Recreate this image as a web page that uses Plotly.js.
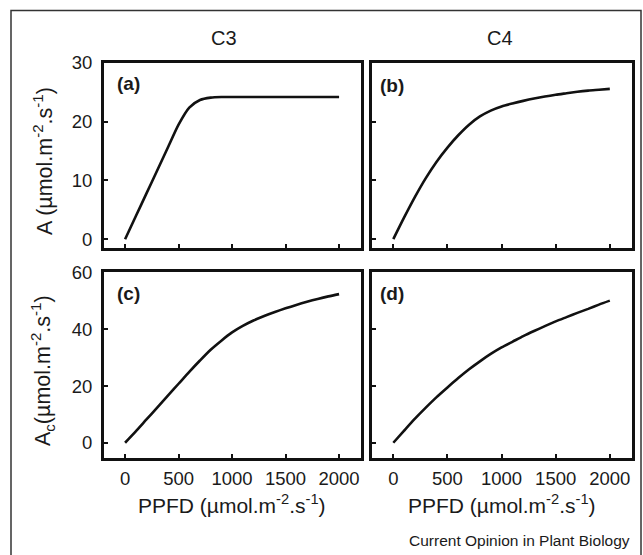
<!DOCTYPE html>
<html>
<head>
<meta charset="utf-8">
<script src="https://cdn.plot.ly/plotly-3.0.1.min.js"></script>
<style>html,body{margin:0;padding:0;background:#fff;}#chart{width:643px;height:555px;}</style>
</head>
<body>
<div id="chart"></div>
<script>
// PPFD values (µmol m-2 s-1)
const ppfd = [0,100,200,300,400,500,600,700,800,900,1000,1100,1200,1300,1400,1500,1600,1700,1800,1900,2000];
// (a) C3 net assimilation A
const aC3 = [0,3.9,7.8,11.7,15.6,19.5,22.4,23.7,24.1,24.2,24.2,24.2,24.2,24.2,24.2,24.2,24.2,24.2,24.2,24.2,24.2];
// (b) C4 net assimilation A
const aC4 = [0,3.7,7.2,10.4,13.2,15.6,17.7,19.5,20.9,21.9,22.6,23.1,23.55,23.95,24.3,24.6,24.85,25.1,25.3,25.45,25.6];
// (c) C3 canopy assimilation Ac
const acC3 = [0,4.0,8.2,12.4,16.6,20.8,25.0,29.0,32.8,36.0,38.9,41.2,43.1,44.7,46.1,47.4,48.6,49.7,50.7,51.6,52.4];
// (d) C4 canopy assimilation Ac
const acC4 = [0,4.3,8.5,12.4,16.1,19.5,22.8,25.9,28.7,31.3,33.6,35.6,37.6,39.4,41.1,42.8,44.3,45.8,47.2,48.7,50.1];
// ticks
const xTicks = [0,500,1000,1500,2000];
const yTicksA = [0,10,20,30];
const yTicksAc = [0,20,40,60];
const colTitles = ['C3','C4'];
const panelLabels = ['(a)','(b)','(c)','(d)'];

const W = 643, H = 555;
const px = v => v / W;
const py = v => 1 - v / H;
const FONT = 'Liberation Sans, Arial, Helvetica, sans-serif';
const INK = '#1a1a1a';

function line(x, y, xa, ya) {
  return {x: x, y: y, xaxis: xa, yaxis: ya, type: 'scatter', mode: 'lines',
    line: {color: '#111', width: 2.6, shape: 'spline', smoothing: 0.7}, hoverinfo: 'skip'};
}
const data = [
  line(ppfd, aC3, 'x', 'y'),
  line(ppfd, aC4, 'x2', 'y2'),
  line(ppfd, acC3, 'x3', 'y3'),
  line(ppfd, acC4, 'x4', 'y4')
];

function xax(dom, anchor, labels) {
  return {domain: dom, anchor: anchor, range: [-197, 2205], tickvals: xTicks,
    ticktext: xTicks.map(String), showticklabels: labels, ticks: 'inside', ticklen: 4, tickwidth: 2,
    tickcolor: '#111', showline: true, mirror: true, linewidth: 3, linecolor: '#111',
    zeroline: false, showgrid: false, tickfont: {size: 18.5, color: INK, family: FONT}, ticklabelstandoff: 2};
}
function yax(dom, anchor, range, ticks, labels) {
  return {domain: dom, anchor: anchor, range: range, tickvals: ticks, ticktext: ticks.map(String),
    showticklabels: labels, ticks: 'inside', ticklen: 4, tickwidth: 2, tickcolor: '#111',
    showline: true, mirror: true, linewidth: 3, linecolor: '#111', zeroline: false, showgrid: false,
    tickfont: {size: 18.5, color: INK, family: FONT}, ticklabelstandoff: 5};
}
const xL = [px(104), px(361)], xR = [px(372), px(632)];
const yT = [py(248), py(63)], yB = [py(457.5), py(272)];

const ann = [];
function A(text, x, y, size, opts) {
  ann.push(Object.assign({text: text, x: x, y: y, xref: 'paper', yref: 'paper', showarrow: false,
    xanchor: 'center', yanchor: 'middle', font: {size: size, color: INK, family: FONT}}, opts || {}));
}
A(colTitles[0], px(223.5), py(38), 20);
A(colTitles[1], px(500), py(38), 20);
A('<b>' + panelLabels[0] + '</b>', px(115), py(83), 19, {xanchor: 'left'});
A('<b>' + panelLabels[1] + '</b>', px(378), py(85), 19, {xanchor: 'left'});
A('<b>' + panelLabels[2] + '</b>', px(115), py(293), 19, {xanchor: 'left'});
A('<b>' + panelLabels[3] + '</b>', px(378), py(293), 19, {xanchor: 'left'});
A('A (µmol.m<sup>-2</sup>.s<sup>-1</sup>)', px(43), py(161), 21.5, {textangle: -90});
A('A<sub>c</sub>(µmol.m<sup>-2</sup>.s<sup>-1</sup>)', px(43), py(371), 21.5, {textangle: -90});
A('PPFD (µmol.m<sup>-2</sup>.s<sup>-1</sup>)', px(232), py(504), 21);
A('PPFD (µmol.m<sup>-2</sup>.s<sup>-1</sup>)', px(502), py(504), 21);
A('Current Opinion in Plant Biology', px(632), py(540), 15.5, {xanchor: 'right'});

const layout = {
  width: W, height: H, margin: {l: 0, r: 0, t: 0, b: 0},
  paper_bgcolor: '#fff', plot_bgcolor: '#fff', showlegend: false,
  font: {family: FONT, color: INK},
  xaxis: xax(xL, 'y', false), yaxis: yax(yT, 'x', [-1.5, 30], yTicksA, true),
  xaxis2: xax(xR, 'y2', false), yaxis2: yax(yT, 'x2', [-1.5, 30], yTicksA, false),
  xaxis3: xax(xL, 'y3', true), yaxis3: yax(yB, 'x3', [-5.2, 60.2], yTicksAc, true),
  xaxis4: xax(xR, 'y4', true), yaxis4: yax(yB, 'x4', [-5.2, 60.2], yTicksAc, false),
  annotations: ann,
  shapes: [{type: 'rect', xref: 'paper', yref: 'paper', x0: px(11), x1: px(641), y0: -0.02, y1: py(10.5),
    line: {color: '#333', width: 1.5}}]
};
Plotly.newPlot('chart', data, layout, {staticPlot: true, displayModeBar: false});
</script>
</body>
</html>
